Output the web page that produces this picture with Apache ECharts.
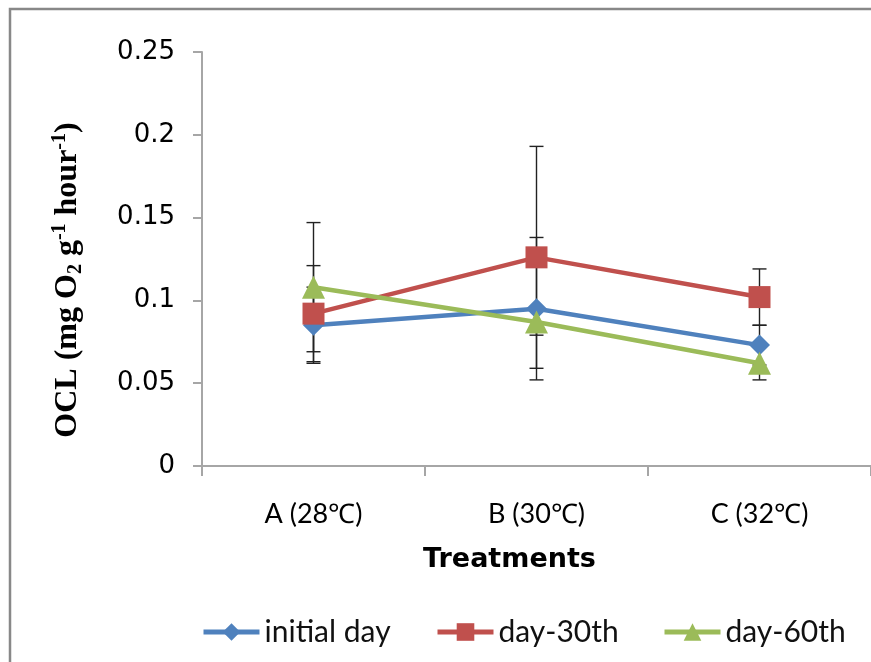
<!DOCTYPE html>
<html>
<head>
<meta charset="utf-8">
<script src="https://cdn.jsdelivr.net/npm/echarts@6/dist/echarts.min.js"></script>
<style>
html,body{margin:0;padding:0;background:#fff;}
#chart{width:871px;height:662px;}
</style>
</head>
<body>
<div id="chart"></div>
<script>
const categories = ['A (28℃)', 'B (30℃)', 'C (32℃)'];
const yTicks = [0, 0.05, 0.1, 0.15, 0.2, 0.25];
const initialDay = [0.085, 0.095, 0.073];
const initialDayErr = [0.023, 0.043, 0.012];
const day30 = [0.092, 0.126, 0.102];
const day30Err = [0.029, 0.067, 0.017];
const day60 = [0.108, 0.087, 0.062];
const day60Err = [0.039, 0.008, 0.010];
const seriesNames = ['initial day', 'day-30th', 'day-60th'];
const colors = ['#4F81BD', '#C0504D', '#9BBB59'];

function errData(vals, errs) {
  return vals.map((v, i) => [i, v - errs[i], v + errs[i]]);
}
function errSeries(vals, errs) {
  return {
    type: 'custom',
    data: errData(vals, errs),
    z: 1,
    silent: true,
    renderItem: function (params, api) {
      const x = api.value(0);
      const lo = api.coord([x, api.value(1)]);
      const hi = api.coord([x, api.value(2)]);
      const half = 7;
      const st = { stroke: '#222', lineWidth: 1.4 };
      return {
        type: 'group',
        children: [
          { type: 'line', shape: { x1: lo[0], y1: lo[1], x2: hi[0], y2: hi[1] }, style: st },
          { type: 'line', shape: { x1: lo[0] - half, y1: lo[1], x2: lo[0] + half, y2: lo[1] }, style: st },
          { type: 'line', shape: { x1: hi[0] - half, y1: hi[1], x2: hi[0] + half, y2: hi[1] }, style: st }
        ]
      };
    }
  };
}
function lineSeries(name, vals, color, symbol, size, z) {
  return {
    name: name,
    type: 'line',
    data: vals,
    symbol: symbol,
    symbolSize: size,
    z: z,
    lineStyle: { color: color, width: 4.5 },
    itemStyle: { color: color },
    emphasis: { disabled: true }
  };
}
const legendText = { fontFamily: 'Lato, "Open Sans", sans-serif', fontSize: 30, color: '#111' };
function legendFor(name, left) {
  return {
    data: [name], left: left, top: 612, itemWidth: 56, itemHeight: 22,
    textStyle: legendText, selectedMode: false,
    lineStyle: { width: 5 }
  };
}

const chart = echarts.init(document.getElementById('chart'));
chart.setOption({
  animation: false,
  backgroundColor: '#fff',
  color: colors,
  grid: { left: 202, top: 52, width: 682, height: 414 },
  legend: [
    legendFor(seriesNames[0], 196),
    legendFor(seriesNames[1], 430),
    legendFor(seriesNames[2], 657)
  ],
  graphic: [
    { type: 'rect', shape: { x: 10, y: 9, width: 900, height: 700 }, style: { fill: 'none', stroke: '#888', lineWidth: 2.5 }, z: -10 },
    {
      type: 'text', x: 68, y: 280, rotation: Math.PI / 2,
      style: {
        text: '{m|OCL (mg O}{sub|2}{m| g}{sup|-1}{m| hour}{sup|-1}{m|)}',
        align: 'center', verticalAlign: 'middle',
        rich: {
          m: { fontFamily: '"Liberation Serif", "Times New Roman", serif', fontWeight: 'bold', fontSize: 32, lineHeight: 36, fill: '#000' },
          sub: { fontFamily: '"Liberation Serif", "Times New Roman", serif', fontWeight: 'bold', fontSize: 20, lineHeight: 36, verticalAlign: 'bottom', fill: '#000' },
          sup: { fontFamily: '"Liberation Serif", "Times New Roman", serif', fontWeight: 'bold', fontSize: 20, lineHeight: 36, verticalAlign: 'top', fill: '#000' }
        }
      }
    }
  ],
  xAxis: {
    type: 'category',
    data: categories,
    boundaryGap: true,
    name: 'Treatments',
    nameLocation: 'middle',
    nameGap: 80,
    nameTextStyle: { fontFamily: '"DejaVu Sans", Verdana, sans-serif', fontWeight: 'bold', fontSize: 27, color: '#000', padding: [0, 54, 0, 0] },
    axisLine: { lineStyle: { color: '#a6a6a6', width: 2 } },
    axisTick: { show: true, length: 10, lineStyle: { color: '#a6a6a6', width: 2 } },
    axisLabel: { margin: 35, fontFamily: 'Lato, "Open Sans", sans-serif', fontSize: 27, color: '#000' },
    splitLine: { show: false }
  },
  yAxis: {
    type: 'value',
    min: yTicks[0],
    max: yTicks[yTicks.length - 1],
    interval: 0.05,
    axisLine: { show: true, lineStyle: { color: '#a6a6a6', width: 2 } },
    axisTick: { show: true, length: 9, lineStyle: { color: '#a6a6a6', width: 2 } },
    axisLabel: { margin: 27, fontFamily: '"DejaVu Sans", Verdana, sans-serif', fontSize: 26, color: '#000' },
    splitLine: { show: false }
  },
  series: [
    errSeries(initialDay, initialDayErr),
    errSeries(day30, day30Err),
    errSeries(day60, day60Err),
    lineSeries(seriesNames[0], initialDay, colors[0], 'diamond', 21, 3),
    lineSeries(seriesNames[1], day30, colors[1], 'rect', 22, 4),
    lineSeries(seriesNames[2], day60, colors[2], 'triangle', 23, 5)
  ]
});
</script>
</body>
</html>
